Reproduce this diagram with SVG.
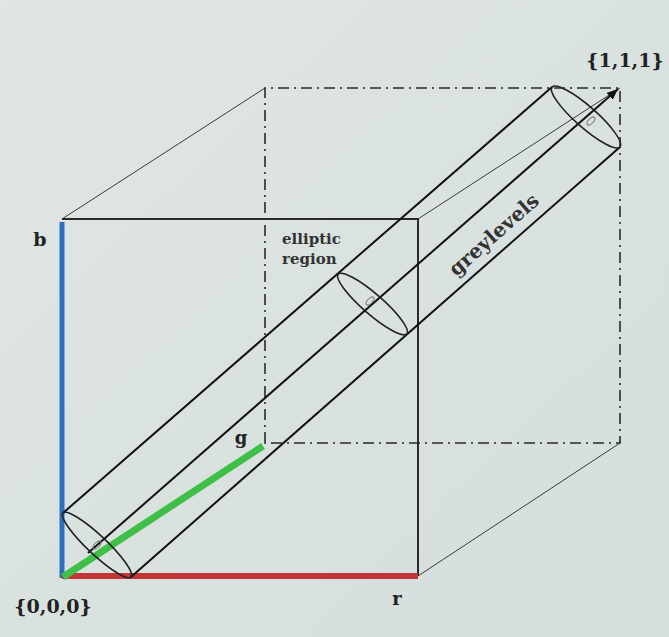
<svg xmlns="http://www.w3.org/2000/svg" width="669" height="637" viewBox="0 0 669 637">
<defs>
<linearGradient id="bg" x1="0" y1="0" x2="1" y2="1">
<stop offset="0" stop-color="#e0e6e3"/>
<stop offset="1" stop-color="#d4dedd"/>
</linearGradient>
<marker id="arrow" markerWidth="14" markerHeight="10" refX="11" refY="4.5" orient="auto" markerUnits="userSpaceOnUse">
<path d="M0,0 L11,4.5 L0,9 Z" fill="#111"/>
</marker>
<style>
.edge{stroke:#3a3a3a;stroke-width:1;fill:none}
.front{stroke:#2a2a2a;stroke-width:2;fill:none}
.back{stroke:#2a2a2a;stroke-width:1.6;fill:none;stroke-dasharray:11 5 2 5}
.cyl{stroke:#111;stroke-width:2;fill:none}
.ell{stroke:#222;stroke-width:1.6;fill:none}
.mark{stroke:#777;stroke-width:1;fill:none}
.lbl{font-family:"DejaVu Serif","Liberation Serif",serif;font-weight:bold;fill:#222}
.note{font-family:"DejaVu Serif","Liberation Serif",serif;font-weight:bold;fill:#333}
</style>
</defs>
<rect width="669" height="637" fill="url(#bg)"/>
<g id="connectors">
<line class="edge" x1="62" y1="219" x2="265" y2="88"/>
<line class="edge" x1="418" y1="219" x2="620" y2="88"/>
<line class="edge" x1="418" y1="576" x2="620" y2="443"/>
<path class="back" d="M265,443 L265,88 L620,88 L620,443 Z"/>
<path class="front" d="M62,219 L418,219 L418,576"/>
<line x1="62" y1="222" x2="62" y2="578" stroke="#2c6fc2" stroke-width="5"/>
<line x1="62" y1="576" x2="418" y2="576" stroke="#c03535" stroke-width="6"/>
<line x1="63" y1="577" x2="263" y2="446" stroke="#3fbf47" stroke-width="7"/>
</g>
<g id="cylinder">
<line class="cyl" x1="63" y1="513" x2="552" y2="87"/>
<line class="cyl" x1="131" y1="577" x2="620" y2="147"/>
<line class="cyl" x1="88" y1="553" x2="618" y2="89" marker-end="url(#arrow)"/>
<ellipse class="ell" cx="97" cy="545" rx="46.7" ry="9.5" transform="rotate(43.3 97 545)"/>
<ellipse class="ell" cx="372.5" cy="304" rx="45.5" ry="10" transform="rotate(41 372.5 304)"/>
<ellipse class="ell" cx="586" cy="117" rx="45.3" ry="10.5" transform="rotate(41.4 586 117)"/>
<ellipse class="mark" cx="97" cy="545" rx="2.5" ry="5" transform="rotate(45 97 545)"/>
<ellipse class="mark" cx="370" cy="301" rx="2.5" ry="5" transform="rotate(45 370 301)"/>
<ellipse class="mark" cx="591" cy="121" rx="2.5" ry="5" transform="rotate(45 591 121)"/>
</g>
<g id="labels">
<text class="lbl" x="40" y="246" font-size="19" text-anchor="middle">b</text>
<text class="lbl" x="241" y="444" font-size="18" text-anchor="middle">g</text>
<text class="lbl" x="397" y="605" font-size="18" text-anchor="middle">r</text>
<text class="lbl" x="53" y="613" font-size="19" text-anchor="middle">{0,0,0}</text>
<text class="lbl" x="625" y="67" font-size="19" text-anchor="middle">{1,1,1}</text>
</g>
<g id="elliptic-region">
<text class="note" x="282" y="244" font-size="15">elliptic</text>
<text class="note" x="282" y="264" font-size="15">region</text>
</g>
<g id="greylevels">
<text class="note" font-size="20" text-anchor="middle" transform="translate(495,236) rotate(-41.5)" y="5">greylevels</text>
</g>
</svg>
